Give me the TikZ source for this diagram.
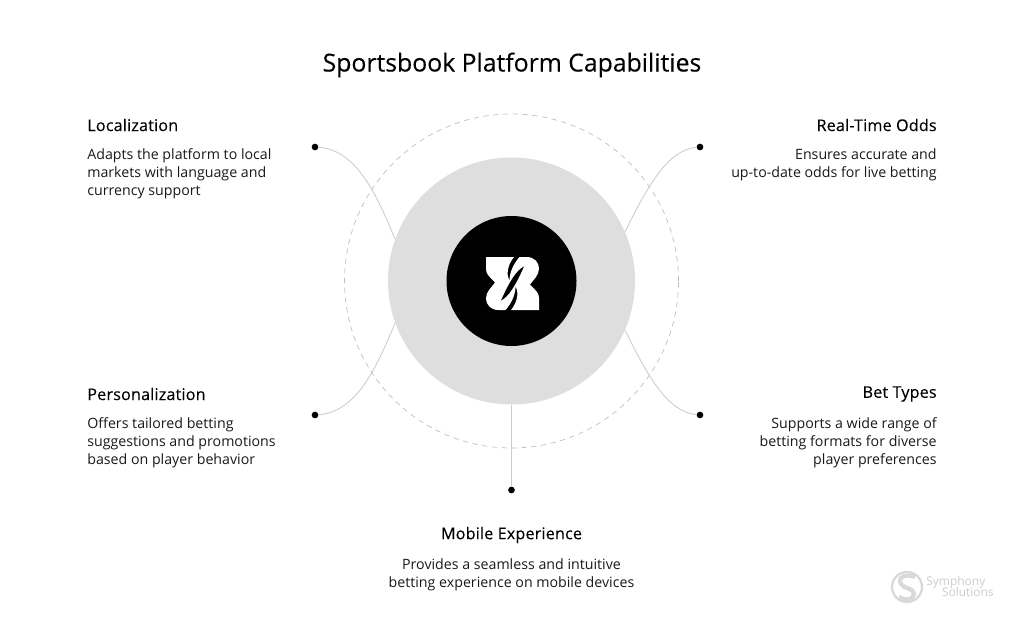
\documentclass[tikz,border=0pt]{standalone}
\usepackage{fontspec}
\setmainfont{Open Sans}
\tikzset{
  x=0.02cm, y=-0.02cm,
  titletext/.style={font=\fontsize{14.1}{16}\selectfont\addfontfeature{FakeBold=0.25}, inner sep=0pt},
  headtext/.style={font=\fontsize{9.2}{11}\selectfont\addfontfeature{LetterSpace=1,FakeBold=0.15}, text=black, inner sep=0pt},
  bodytext/.style={font=\fontsize{8.08}{10.25}\selectfont, text=black!90, inner sep=0pt},
  leader/.style={draw=black!20, line width=0.5pt},
  tipdot/.style={circle, fill=black, minimum size=3.8pt, inner sep=0pt},
  marktext/.style={inner sep=0pt, text=black!20, font=\fontsize{6.8}{7}\selectfont},
}
\begin{document}
\begin{tikzpicture}
\useasboundingbox (0,0) rectangle (1024,635);
\node [titletext] (title) at (512, 65) {Sportsbook Platform Capabilities};
% rings
\node [circle, draw=black!25, dash pattern=on 3pt off 2.6pt, line width=0.4pt, minimum size=334*0.02cm, inner sep=0pt] (ring) at (511.5, 281) {};
\node [circle, fill=black!13, minimum size=247*0.02cm, inner sep=0pt] (disc) at (511.5, 281) {};
\node [circle, fill=black, minimum size=130*0.02cm, inner sep=0pt] (core) at (511.5, 281) {};
% logo
\begin{scope}[shift={(512.5, 283.5)}]
\fill [white] (-26.5,-26.5) -- (1.5,-26.5) .. controls (-4,-20) and (-7,-10) .. (-3,-3) .. controls (-3,-12) and (2,-21) .. (7,-26.5) -- (14,-26.5) .. controls (22,-26.5) and (26.5,-21) .. (26.5,-15) .. controls (26.5,-8) and (21,-4) .. (17.5,1) .. controls (22,6) and (26.5,9) .. (26.5,14) -- (26.5,26.5) -- (-1.5,26.5) .. controls (4,20) and (7,10) .. (3,3) .. controls (3,12) and (-2,21) .. (-7,26.5) -- (-14,26.5) .. controls (-22,26.5) and (-26.5,21) .. (-26.5,15) .. controls (-26.5,8) and (-21,4) .. (-17.5,-1) .. controls (-22,-6) and (-26.5,-9) .. (-26.5,-14) -- cycle;
\fill [black] (11.5,-17) .. controls (4,-13) and (-2,-4) .. (-11.5,17) .. controls (-4,13) and (2,4) .. (11.5,-17) -- cycle;
\end{scope}
% dots
\node [tipdot] (dotloc) at (315, 147) {};
\node [tipdot] (dotodds) at (700, 147) {};
\node [tipdot] (dotpers) at (315, 415) {};
\node [tipdot] (dotbet) at (700, 415) {};
\node [tipdot] (dotmob) at (511.5, 490) {};
\coordinate (endloc) at (395, 239);
\coordinate (endodds) at (625, 232);
\coordinate (endpers) at (395, 323);
\coordinate (endbet) at (625, 330);
\draw [leader] (dotloc) .. controls (355, 150) and (375, 190) .. (endloc);
\draw [leader] (dotodds) .. controls (668, 150) and (648, 185) .. (endodds);
\draw [leader] (dotpers) .. controls (355, 412) and (375, 372) .. (endpers);
\draw [leader] (dotbet) .. controls (668, 412) and (648, 377) .. (endbet);
\draw [leader] (disc.south) -- (dotmob);
% left
\node [headtext, anchor=west] (locname) at (87, 125) {Localization};
\node [bodytext, anchor=north west, align=left] (loctext) at (87, 148) {Adapts the platform to local\\markets with language and\\currency support};
\node [headtext, anchor=west] (persname) at (87, 394) {Personalization};
\node [bodytext, anchor=north west, align=left] (perstext) at (87, 417) {Offers tailored betting\\suggestions and promotions\\based on player behavior};
% right
\node [headtext, anchor=east] (oddsname) at (937, 125) {Real-Time Odds};
\node [bodytext, anchor=north east, align=right] (oddstext) at (937, 148) {Ensures accurate and\\up-to-date odds for live betting};
\node [headtext, anchor=east] (betname) at (937, 394) {Bet Types};
\node [bodytext, anchor=north east, align=right] (bettext) at (937, 417) {Supports a wide range of\\betting formats for diverse\\player preferences};
% bottom
\node [headtext] (mobname) at (511.5, 535) {Mobile Experience};
\node [bodytext, anchor=north, align=center] (mobtext) at (511.5, 558) {Provides a seamless and intuitive\\betting experience on mobile devices};
% watermark
\node [circle, draw=black!15, line width=1.3pt, minimum size=30*0.02cm, inner sep=0pt] (markring) at (907, 587) {};
\draw [black!15, line width=2.4pt] (915,577) .. controls (905,573) and (897,578) .. (901,584) .. controls (904,589) and (914,588) .. (914,594) .. controls (914,600) and (905,601) .. (899,597);
\node [marktext, anchor=west] (markone) at (926, 582) {Symphony};
\node [marktext, anchor=east] (marktwo) at (994, 592) {Solutions};
\end{tikzpicture}
\end{document}
